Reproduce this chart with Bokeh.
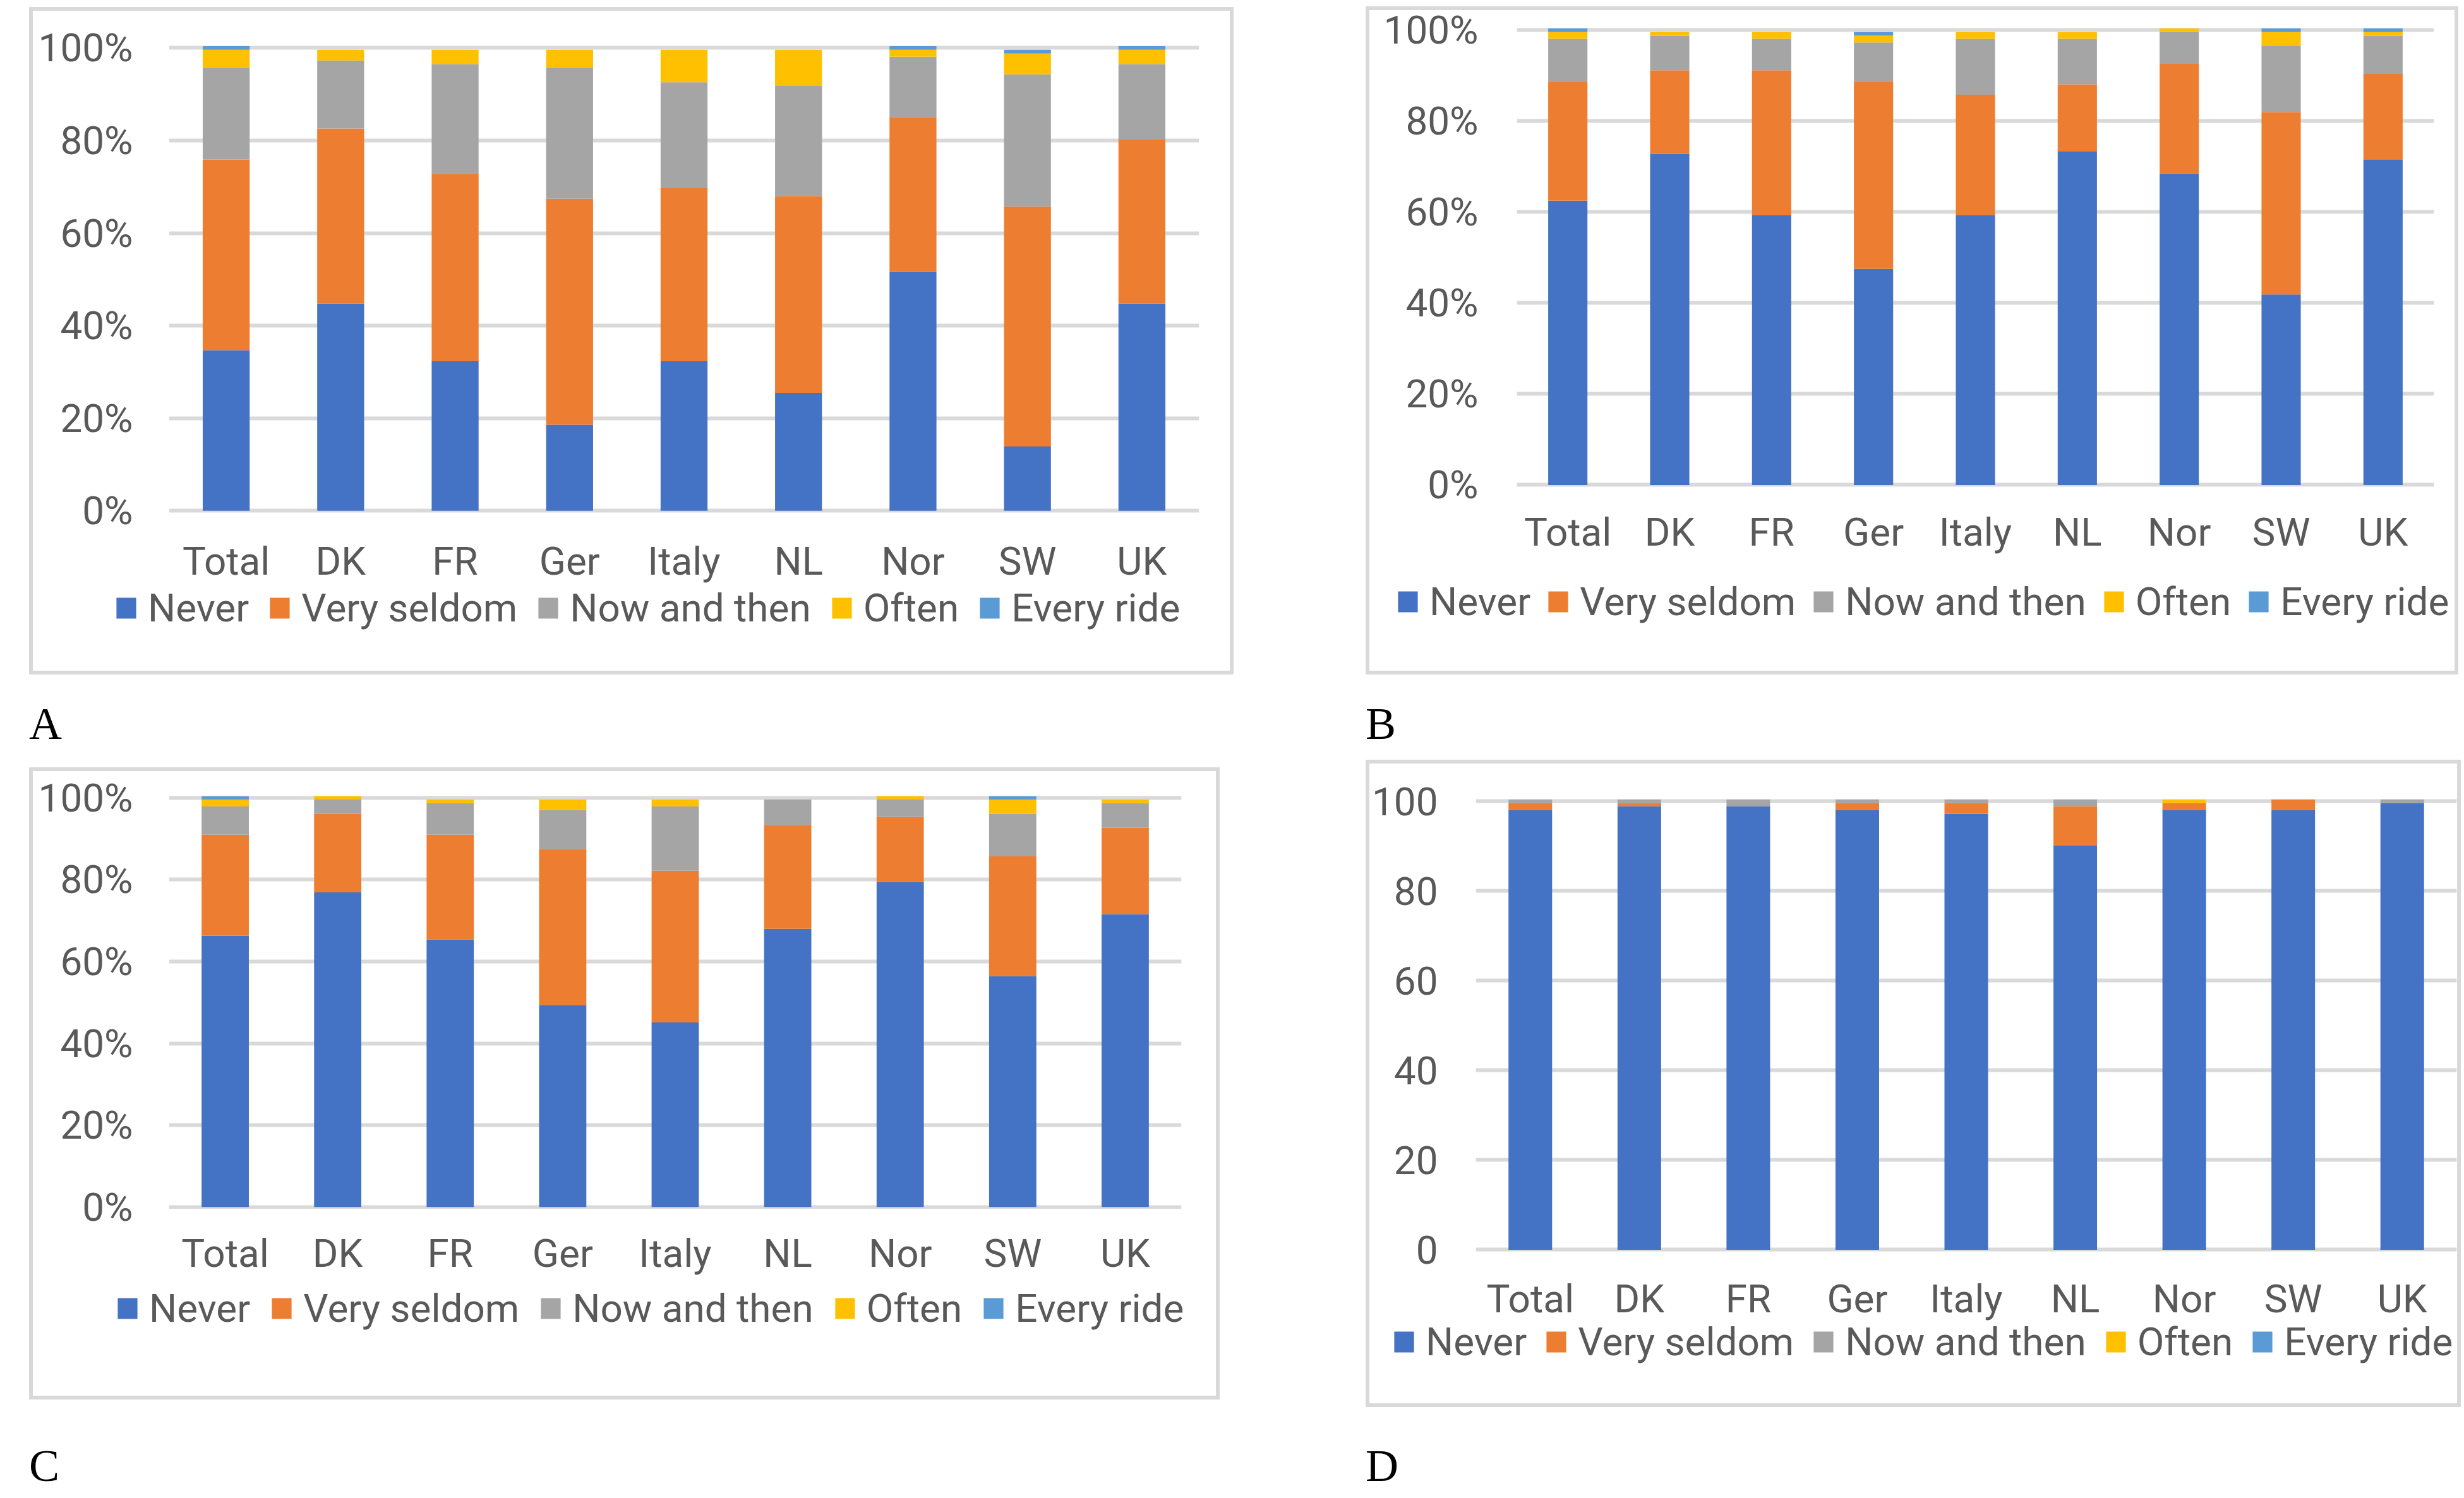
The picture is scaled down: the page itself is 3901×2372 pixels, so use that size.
from bokeh.plotting import figure
from bokeh.models import (FactorRange, Range1d, FixedTicker, PrintfTickFormatter,
                          Legend, LegendItem, ColumnDataSource, Div, Spacer, Grid)
from bokeh.layouts import column, row
from bokeh.embed import file_html
from bokeh.resources import INLINE

categories = ["Total", "DK", "FR", "Ger", "Italy", "NL", "Nor", "SW", "UK"]
series = ["Never", "Very seldom", "Now and then", "Often", "Every ride"]
colors = ["#4472C4", "#ED7D31", "#A5A5A5", "#FFC000", "#5B9BD5"]
y_ticks = [0, 20, 40, 60, 80, 100]

# Panel A (%)
a_never = [34.7, 44.8, 32.3, 18.6, 32.3, 25.5, 51.6, 13.9, 44.8]
a_very_seldom = [41.2, 37.8, 40.4, 48.8, 37.4, 42.5, 33.4, 51.8, 35.5]
a_now_and_then = [19.9, 14.7, 23.8, 28.4, 22.9, 23.9, 13.1, 28.6, 16.2]
a_often = [3.8, 2.3, 3.1, 3.8, 7.0, 7.7, 1.5, 4.5, 3.1]
a_every_ride = [0.8, 0.0, 0.0, 0.0, 0.0, 0.0, 0.8, 0.8, 0.8]

# Panel B (%)
b_never = [62.5, 72.8, 59.3, 47.5, 59.3, 73.4, 68.5, 41.9, 71.5]
b_very_seldom = [26.3, 18.4, 31.9, 41.3, 26.5, 14.7, 24.1, 40.1, 18.9]
b_now_and_then = [9.3, 7.6, 6.9, 8.5, 12.3, 10.0, 7.0, 14.6, 8.4]
b_often = [1.5, 0.8, 1.5, 1.5, 1.5, 1.5, 0.8, 3.0, 0.8]
b_every_ride = [0.8, 0.0, 0.0, 0.8, 0.0, 0.0, 0.0, 0.8, 0.8]

# Panel C (%)
c_never = [66.3, 76.9, 65.4, 49.4, 45.1, 68.0, 79.4, 56.4, 71.6]
c_very_seldom = [24.7, 19.2, 25.6, 38.1, 37.1, 25.4, 15.9, 29.3, 21.1]
c_now_and_then = [6.9, 3.5, 7.7, 9.5, 15.7, 6.2, 4.3, 10.4, 6.0]
c_often = [1.7, 0.8, 0.9, 2.6, 1.7, 0.0, 0.8, 3.5, 0.9]
c_every_ride = [0.8, 0.0, 0.0, 0.0, 0.0, 0.0, 0.0, 0.8, 0.0]

# Panel D (values)
d_never = [98.0, 98.9, 98.9, 98.0, 97.2, 90.1, 98.0, 98.0, 99.6]
d_very_seldom = [1.6, 0.7, 0.0, 1.6, 2.4, 8.8, 1.6, 2.4, 0.0]
d_now_and_then = [0.8, 0.8, 1.5, 0.8, 0.8, 1.5, 0.0, 0.0, 0.8]
d_often = [0.0, 0.0, 0.0, 0.0, 0.0, 0.0, 0.8, 0.0, 0.0]
d_every_ride = [0.0, 0.0, 0.0, 0.0, 0.0, 0.0, 0.0, 0.0, 0.0]

FONT = "Roboto"
FS = "62px"
TXT = "#595959"
BORDER = "#d9d9d9"
OVERLAP = 40


def no_align(p):
    try:
        p.frame_align = False
    except Exception:
        pass


def make_panel(data, w, hc, hl, mbl, mbr, mbt, mbb, xstand, ystand,
               legx, legy, spacing, pct, bw):
    src = ColumnDataSource(dict(cat=categories, **{s: v for s, v in zip(series, data)}))
    p = figure(x_range=FactorRange(factors=categories), y_range=Range1d(-0.5, 100.6),
               width=w, height=hc, output_backend="svg", toolbar_location=None,
               min_border_left=mbl, min_border_right=mbr,
               min_border_top=mbt, min_border_bottom=mbb,
               outline_line_color=None, border_fill_color=None,
               background_fill_color=None)
    no_align(p)
    p.vbar_stack(series, x="cat", width=bw, source=src,
                 fill_color=colors, line_color=None)

    p.xgrid.grid_line_color = None
    p.ygrid.grid_line_color = BORDER
    p.ygrid.grid_line_width = 6

    for ax in (p.xaxis, p.yaxis):
        ax.axis_line_color = None
        ax.major_tick_line_color = None
        ax.minor_tick_line_color = None
        ax.major_tick_out = 0
        ax.major_tick_in = 0
        ax.minor_tick_out = 0
        ax.minor_tick_in = 0
        ax.major_label_text_font = FONT
        ax.major_label_text_font_size = FS
        ax.major_label_text_color = TXT
    p.xaxis.major_label_standoff = xstand
    p.yaxis.major_label_standoff = ystand
    p.yaxis.ticker = FixedTicker(ticks=y_ticks)
    if pct:
        p.yaxis.formatter = PrintfTickFormatter(format="%d%%")

    # legend strip below the chart (overlapping its bottom edge), same series colours
    lf = figure(x_range=Range1d(0, 1), y_range=Range1d(0, 1), width=w,
                height=hl + OVERLAP,
                output_backend="svg", toolbar_location=None,
                x_axis_location=None, y_axis_location=None,
                min_border_left=0, min_border_right=0, min_border_top=0,
                min_border_bottom=0, outline_line_color=None,
                border_fill_color=None, background_fill_color=None,
                margin=(-OVERLAP, 0, 0, 0))
    no_align(lf)
    for g in lf.select(type=Grid):
        g.visible = False
    items = []
    for s, c in zip(series, colors):
        r = lf.vbar(x=[-10], top=[0], width=0.1, fill_color=c, line_color=None)
        items.append(LegendItem(label=s, renderers=[r]))
    leg = Legend(items=items, orientation="horizontal", location=(legx, legy),
                 glyph_width=39, glyph_height=41, label_standoff=15, spacing=spacing,
                 padding=0, margin=0, border_line_color=None,
                 background_fill_color=None, background_fill_alpha=0,
                 label_text_font=FONT, label_text_font_size=FS,
                 label_text_color=TXT)
    lf.add_layout(leg, "center")
    return column(p, lf, spacing=0,
                  styles={"box-shadow": "inset 0 0 0 6px " + BORDER})


pA = make_panel([a_never, a_very_seldom, a_now_and_then, a_often, a_every_ride],
                1907, 925, 132, 221, 55, 60, 124, 39, 57, 134, 69, 29, True, 0.41)
pB = make_panel([b_never, b_very_seldom, b_now_and_then, b_often, b_every_ride],
                1730, 885, 173, 239, 39, 33, 124, 34, 61, 47, 79, 24, True, 0.385)
pC = make_panel([c_never, c_very_seldom, c_now_and_then, c_often, c_every_ride],
                1885, 822, 179, 221, 61, 44, 123, 33, 57, 136, 108, 30, True, 0.42)
pD = make_panel([d_never, d_very_seldom, d_now_and_then, d_often, d_every_ride],
                1734, 899, 126, 174, 7, 61, 120, 37, 60, 41, 67, 27, False, 0.40)


def letter(t):
    return Div(text=t, width=120, height=72, margin=0,
               styles={"font-family": "'Liberation Serif', serif", "font-size": "72px",
                       "line-height": "72px", "color": "#000000"})


left = column(Spacer(width=10, height=11, margin=0), pA,
              Spacer(width=10, height=42, margin=0), letter("A"),
              Spacer(width=10, height=33, margin=0), pC,
              Spacer(width=10, height=69, margin=0), letter("C"), spacing=0)
right = column(Spacer(width=10, height=10, margin=0), pB,
               Spacer(width=10, height=42, margin=0), letter("B"),
               Spacer(width=10, height=21, margin=0), pD,
               Spacer(width=10, height=57, margin=0), letter("D"), spacing=0)
page = row(Spacer(width=46, height=10, margin=0), left,
           Spacer(width=209, height=10, margin=0), right, spacing=0)

open("out.html", "w").write(file_html(page, INLINE))
